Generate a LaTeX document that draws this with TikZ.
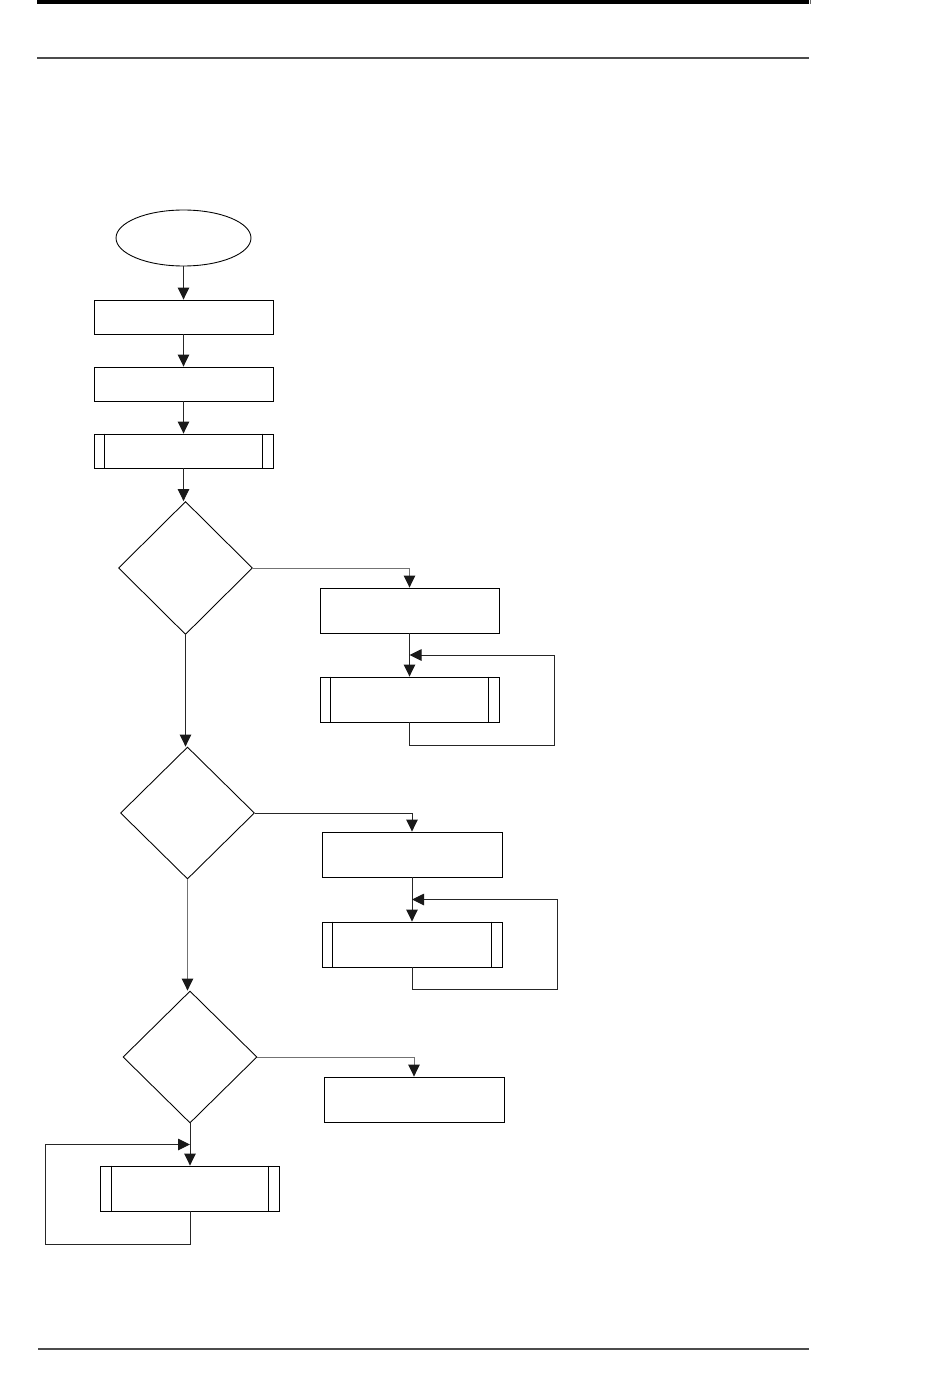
\documentclass[tikz,border=0pt]{standalone}
\usepackage{tikz}
\usetikzlibrary{calc,arrows.meta,shapes.geometric}
\def\sidebars(#1)(#2){\draw[line width=0.5pt] ($(#1.north west)+(#2,0)$) -- ($(#1.south west)+(#2,0)$); \draw[line width=0.5pt] ($(#1.north east)-(#2,0)$) -- ($(#1.south east)-(#2,0)$);}
\tikzset{
  procbox/.style={draw, line width=0.5pt, rectangle, inner sep=0pt, minimum width=3.58cm},
  decbox/.style={draw, line width=0.5pt, diamond, inner sep=0pt, minimum width=2.68cm, minimum height=2.66cm},
  flow/.style={line width=0.55pt, color=black!85, -{Triangle[length=2.4mm, width=2.3mm, color=black!90]}},
  paleflow/.style={flow, color=black!55}
}

\begin{document}
\begin{tikzpicture}[x=0.02cm, y=-0.02cm]
		%%%%% START %%%%%
		\useasboundingbox (0,0) rectangle (950,1398);
		
		\fill[black] (37,0) rectangle (809,4);
		\draw[line width=0.6pt, color=black!60] (810.5,0) -- (810.5,4);
		\draw[line width=0.8pt, color=black!70] (37,58) -- (809,58);
		\draw[line width=0.8pt, color=black!70] (38,1349) -- (809,1349);
		
		\node[draw, line width=0.5pt, ellipse, inner sep=0pt, minimum width=2.7cm, minimum height=1.12cm] (start) at (183.5,238) {};
		\node[procbox, minimum height=0.68cm] (b1) at (183.5,317) {};
		\node[procbox, minimum height=0.68cm] (b2) at (183.5,384) {};
		\node[procbox, minimum height=0.68cm] (b3) at (183.5,451) {};
		\sidebars(b3)(11)
		
		\node[decbox] (d1) at (185.5,568) {};
		\node[procbox, minimum height=0.9cm] (b4) at (409.5,610.5) {};
		\node[procbox, minimum height=0.9cm] (b5) at (409.5,699.5) {};
		\sidebars(b5)(11)
		
		\node[decbox, minimum height=2.64cm] (d2) at (187.5,813) {};
		\node[procbox, minimum width=3.6cm, minimum height=0.9cm] (b6) at (412,854.5) {};
		\node[procbox, minimum width=3.6cm, minimum height=0.9cm] (b7) at (412,944.5) {};
		\sidebars(b7)(11)
		
		\node[decbox, minimum height=2.64cm] (d3) at (190,1057) {};
		\node[procbox, minimum width=3.6cm, minimum height=0.9cm] (b8) at (414,1099.5) {};
		\node[procbox, minimum height=0.9cm] (b9) at (190,1188.5) {};
		\sidebars(b9)(11)
		
		\coordinate (m45) at ($(b4.south)!0.5!(b5.north)$);
		\coordinate (m67) at ($(b6.south)!0.5!(b7.north)$);
		\coordinate (m39) at ($(d3.south)!0.5!(b9.north)$);
		
		\draw[flow] (start) -- (b1);
		\draw[flow] (b1) -- (b2);
		\draw[flow] (b2) -- (b3);
		\draw[flow] (b3) -- (b3 |- d1.north);
		
		\draw[paleflow] (d1.east) -| (b4.north);
		\draw[flow] (b4) -- (b5);
		\draw[flow] (b5.south) |- ++(145,23) |- (m45);
		\draw[flow] (d1.south) -- (d1.south |- d2.north);
		
		\draw[flow] (d2.east) -| (b6.north);
		\draw[flow] (b6) -- (b7);
		\draw[flow] (b7.south) |- ++(145,22) |- (m67);
		\draw[paleflow] (d2.south) -- (d2.south |- d3.north);
		
		\draw[paleflow] (d3.east) -| (b8.north);
		\draw[flow] (d3.south) -- (b9.north);
		\draw[flow] (b9.south) |- ++(-145,33) |- (m39);
		
		%%%%% END %%%%%
	\end{tikzpicture}
\end{document}
